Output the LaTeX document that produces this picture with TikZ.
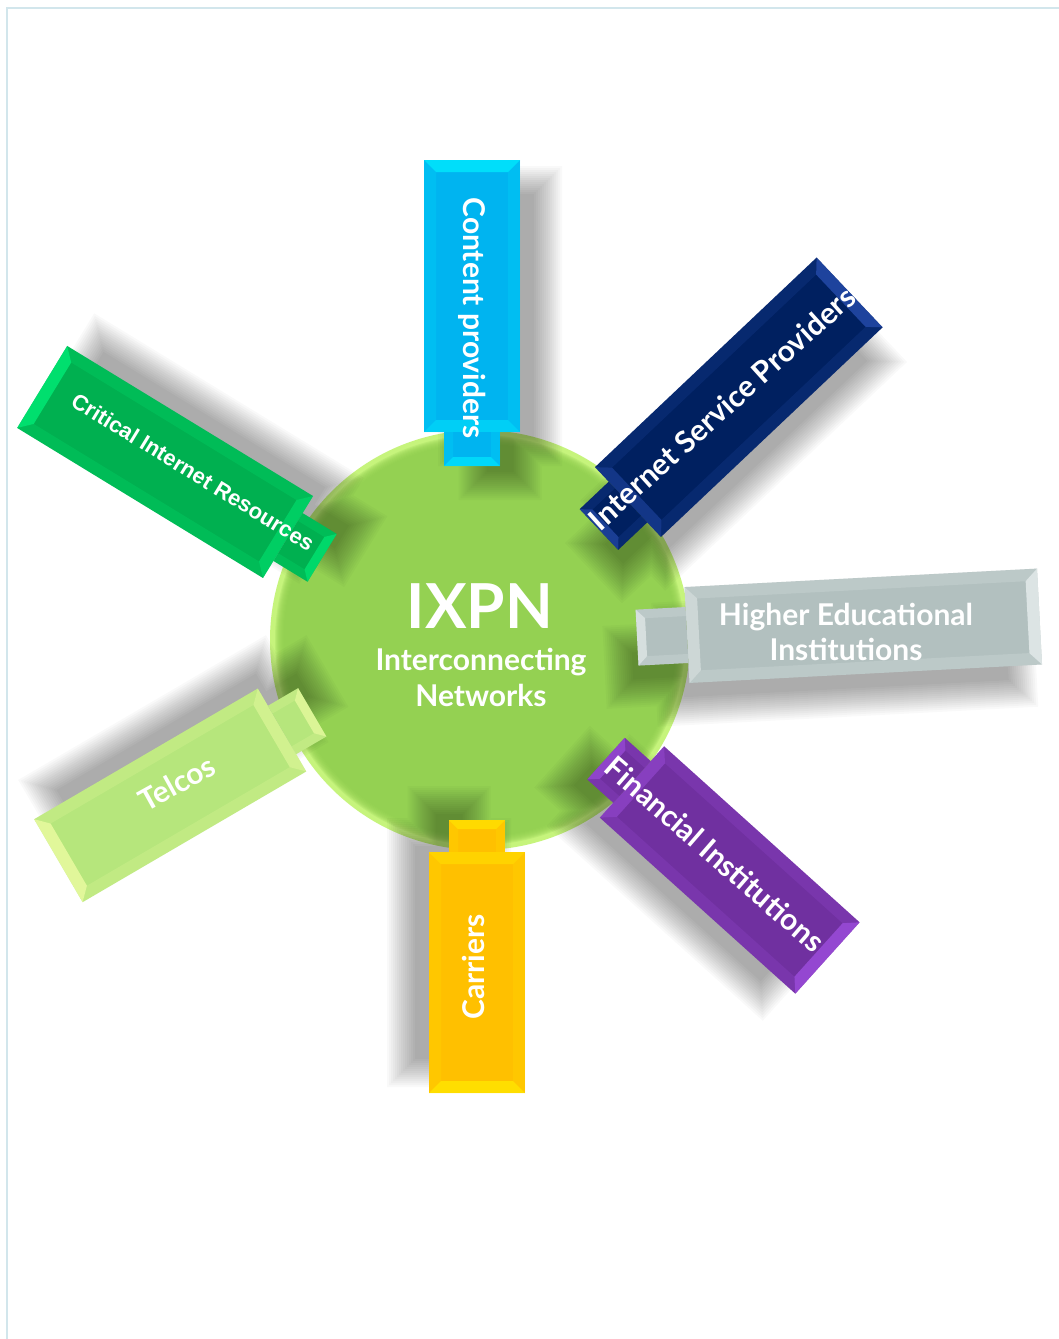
\documentclass[tikz,border=0pt]{standalone}
\usepackage{fontspec}
\setmainfont{Lato}
\newfontfamily\arialfont{Liberation Sans}
\usetikzlibrary{positioning}

\definecolor{frame}{HTML}{D2E6EC}
\definecolor{hubgreen}{HTML}{92D050}
\definecolor{hubrim}{HTML}{C6F47C}
\definecolor{cyanarm}{HTML}{00B4F0}
\definecolor{cyanlit}{HTML}{00F0FF}
\definecolor{navyarm}{HTML}{002060}
\definecolor{navylit}{HTML}{2C52B8}
\definecolor{grayarm}{HTML}{B2C0BF}
\definecolor{graylit}{HTML}{EEF4F4}
\definecolor{purplearm}{HTML}{7030A0}
\definecolor{purplelit}{HTML}{A452E6}
\definecolor{goldarm}{HTML}{FFC000}
\definecolor{goldlit}{HTML}{FFEC00}
\definecolor{limearm}{HTML}{B6E67C}
\definecolor{limelit}{HTML}{F4FFA8}
\definecolor{greenarm}{HTML}{00B050}
\definecolor{greenlit}{HTML}{00F47C}

% x/y of the box foot, angle, box length, neck length, fill, bevel
\def\spokes{%
  472/432/90/272/34/cyanarm/cyanlit,
  628/502/43.4/305/40/navyarm/navylit,
  687/635/3/353/50/grayarm/graylit,
  632/782/-42/263/35/purplearm/purplelit,
  477/852/-90/241/32/goldarm/goldlit,
  282/730/210.3/259/35/limearm/limelit,
  288/537/148.6/288/40/greenarm/greenlit}

\begin{document}
\begin{tikzpicture}[x=1pt,y=-1pt,
    hub/.style={circle, fill=hubrim, minimum size=420pt, inner sep=0pt},
    hubtitle/.style={text=white, font=\fontsize{62}{62}\selectfont\bfseries, inner sep=0pt},
    spoketext/.style={text=white, font=\fontsize{30}{36}\selectfont\bfseries, inner sep=0pt},
]
\useasboundingbox (0,0) rectangle (1059,1339);
\fill[white] (0,0) rectangle (1059,1339);
\draw[frame,line width=2pt] (1059,7.5) -- (6.5,7.5) -- (6.5,1339);

% the hub disc with its light rim
\node[hub] (ixpn) at (480,640) {};
\foreach \k in {0,...,9}
  \fill[hubgreen,opacity=.22] (ixpn.center) circle[radius=205-\k];

% soft shadows of the spokes
\foreach \px/\py/\ang/\len/\neck/\base/\lit in \spokes {
  \begin{scope}[shift={(\px,\py)},rotate=\ang]
    \foreach \k in {0,...,14}
      \fill[black,opacity=.022]
        (-6-2*\k,-6-2*\k) rectangle (\len-34+2*\k,62+2*\k)
        (-\neck-6-2*\k,14.5-2*\k) rectangle (0,41.5+2*\k);
  \end{scope}
}

% bevelled spokes
\foreach \px/\py/\ang/\len/\neck/\base/\lit in \spokes {
  \begin{scope}[shift={(\px,\py)},rotate=\ang]
    \fill[\base] (0,-48) rectangle (\len,48);
    \fill[\lit,opacity=.7] (\len,-48) -- (\len,48) -- (\len-12,36) -- (\len-12,-36) -- cycle;
    \fill[\lit,opacity=.45] (0,-48) -- (0,48) -- (12,36) -- (12,-36) -- cycle;
    \fill[\lit,opacity=.18] (0,-48) -- (\len,-48) -- (\len-12,-36) -- (12,-36) -- cycle
                            (0,48) -- (\len,48) -- (\len-12,36) -- (12,36) -- cycle;
    \fill[\base] (-\neck,-28) rectangle (0,28);
    \fill[\lit,opacity=.6] (-\neck,-28) -- (-\neck,28) -- (-\neck+9,19) -- (-\neck+9,-19) -- cycle;
    \fill[\lit,opacity=.18] (-\neck,-28) -- (0,-28) -- (0,-19) -- (-\neck+9,-19) -- cycle
                            (-\neck,28) -- (0,28) -- (0,19) -- (-\neck+9,19) -- cycle;
  \end{scope}
}

% hub text
\node[hubtitle,anchor=base] (ixpnname) at (480,628) {IXPN};
\node[spoketext,anchor=base] (ixpnsub) at (481,670) {Interconnecting};
\node[spoketext,anchor=base] (ixpnsub2) at (481,706) {Networks};

% spoke labels
\node[spoketext,rotate=-90] (content) at (472,318) {Content providers};
\node[spoketext,rotate=42] (isp) at (722,408) {Internet Service Providers};
\node[spoketext,anchor=base] (higher) at (846,625) {Higher Educational};
\node[spoketext,anchor=base] (higher2) at (846,660) {Institutions};
\node[spoketext,rotate=-41] (financial) at (715,854) {Financial Institutions};
\node[spoketext,rotate=90] (carriers) at (473,967) {Carriers};
\node[spoketext,rotate=29] (telcos) at (177,783) {Telcos};
\node[spoketext,font=\arialfont\fontsize{22}{26}\selectfont\bfseries,rotate=-31.5] (cir) at (193,472) {Critical Internet Resources};

\end{tikzpicture}
\end{document}
